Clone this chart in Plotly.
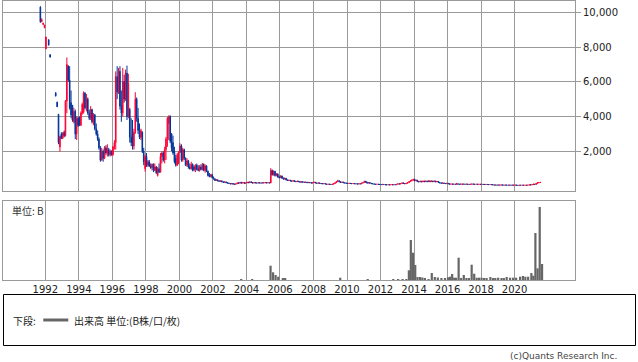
import pandas as pd
import plotly.graph_objects as go

# Monthly candles, Sep 1991 .. Jul 2021 (None = no trading that month)
first_month = "1991-09-01"
opens = [
    10300, 9450, 9300, 9100,
    7900, None, 8420, 7560, None, None, None, 5370, 4830, 4130, 2250, 3000,
    2750, 3100, 2900, 4900, 6900, 6100, 4800, 4650, 3700, 4300, 3000, 3900,
    3600, 3500, 4200, 4250, 5350, 4500, 5000, 4200, 3900, 4400, 3700, 4100,
    3300, 3000, 2700, 2200, 1500, 2000, 1600, 2200, 1900, 2100, 1800, 2000,
    1800, 2250, 2500, 6300, 5400, 6600, 4600, 4200, 6000, 5000, 6500, 4000,
    4400, 2800, 3000, 2300, 3100, 5000, 3900, 3200, 2800, 3100, 2000, 1000,
    1700, 1200, 1400, 1150, 1050, 1250, 900, 1100, 600, 1000, 800, 1700,
    1900, 1500, 2100, 2700, 3600, 4000, 3000, 2500, 2000, 1600, 1200, 1300,
    1950, 2300, 1500, 2100, 1600, 1200, 1450, 1100, 1000, 1250, 1100, 950,
    1200, 1000, 900, 1100, 950, 1250, 900, 1150, 850, 650, 550, 650,
    480, 400, 320, 360, 300, 270, 300, 240, 210, 240, 190, 170,
    150, 120, 150, 110, 100, 130, 180, 160, 210, 170, 200, 160,
    180, 220, 190, 240, 200, 170, 200, 180, 170, 190, 175, 170,
    190, 180, 200, 175, 190, 175, 900, 650, 850, 600, 700, 520,
    480, 580, 450, 400, 450, 350, 320, 340, 290, 280, 310, 270,
    250, 280, 250, 220, 250, 220, 210, 230, 190, 210, 190, 170,
    190, 220, 180, 160, 180, 155, 140, 130, 140, 115, 100, 110,
    100, 90, 105, 140, 190, 260, 300, 240, 210, 230, 190, 170,
    160, 150, 160, 145, 135, 145, 130, 125, 115, 135, 120, 170,
    200, 280, 220, 170, 200, 160, 140, 125, 105, 100, 110, 95,
    90, 80, 95, 85, 75, 65, 75, 65, 80, 70, 85, 70,
    100, 130, 115, 140, 180, 150, 130, 160, 200, 260, 300, 340,
    380, 300, 340, 260, 240, 280, 240, 290, 250, 290, 250, 300,
    250, 290, 250, 290, 240, 270, 210, 180, 160, 180, 150, 140,
    160, 125, 110, 120, 105, 115, 100, 130, 105, 100, 120, 105,
    115, 105, 112, 100, 95, 102, 120, 105, 98, 108, 98, 105,
    95, 105, 92, 88, 96, 88, 82, 90, 80, 62, 55, 62,
    52, 62, 55, 64, 56, 52, 58, 52, 48, 55, 50, 56,
    50, 56, 47, 40, 48, 44, 52, 46, 50, 45, 52, 70,
    60, 85, 110, 90, 150, 190, 200,
]
highs = [
    10350, 9650, 9400, 9280,
    8600, None, 8440, 7580, None, None, None, 5390, 4850, 4130, 2900, 3100,
    3100, 3200, 4950, 7400, 6950, 6900, 5500, 4650, 4500, 4400, 4000, 4000,
    4000, 4300, 4800, 5450, 5400, 5300, 5100, 4400, 4600, 4450, 4200, 4150,
    3600, 3200, 2800, 2300, 2200, 2100, 2300, 2350, 2400, 2200, 2100, 2050,
    2300, 2640, 6600, 6900, 6800, 6900, 5500, 6800, 6400, 6700, 6930, 6460,
    4500, 3900, 3800, 3300, 5400, 5100, 4500, 3600, 3300, 3150, 2200, 1800,
    1900, 1500, 1500, 1300, 1300, 1300, 1300, 1150, 1100, 1300, 1900, 2000,
    2000, 2260, 2830, 3980, 4070, 4070, 3050, 2900, 2260, 1800, 1900, 2000,
    2460, 2400, 2200, 2150, 1650, 1600, 1500, 1300, 1400, 1300, 1200, 1250,
    1300, 1200, 1200, 1250, 1330, 1300, 1250, 1200, 900, 750, 700, 700,
    550, 450, 380, 380, 330, 320, 310, 260, 250, 250, 210, 190,
    170, 160, 160, 130, 140, 200, 220, 230, 240, 210, 210, 190,
    230, 240, 260, 260, 210, 220, 210, 200, 200, 200, 190, 200,
    200, 210, 210, 200, 195, 1030, 950, 900, 870, 750, 720, 600,
    620, 600, 500, 480, 460, 380, 360, 350, 320, 330, 320, 290,
    300, 300, 260, 270, 260, 240, 240, 235, 220, 220, 200, 200,
    240, 230, 190, 190, 185, 165, 150, 150, 145, 125, 120, 115,
    110, 110, 150, 200, 280, 360, 320, 260, 250, 240, 200, 180,
    170, 170, 165, 155, 150, 150, 140, 130, 140, 140, 180, 220,
    300, 290, 240, 210, 210, 170, 150, 130, 115, 115, 112, 100,
    95, 100, 100, 90, 80, 80, 78, 85, 85, 90, 88, 110,
    140, 135, 150, 200, 200, 160, 170, 220, 280, 330, 380, 420,
    420, 360, 350, 290, 300, 290, 300, 300, 310, 300, 310, 310,
    310, 300, 310, 300, 290, 280, 220, 200, 190, 190, 160, 170,
    165, 130, 130, 125, 120, 120, 180, 140, 110, 130, 122, 120,
    118, 115, 115, 105, 105, 140, 125, 108, 110, 110, 110, 108,
    110, 108, 96, 100, 98, 90, 95, 92, 82, 66, 68, 64,
    66, 64, 68, 66, 58, 62, 60, 54, 58, 57, 60, 58,
    60, 58, 50, 52, 50, 56, 54, 55, 52, 55, 80, 75,
    90, 130, 115, 170, 220, 230, 220,
]
lows = [
    9400, 9450, 9280, 9100,
    7880, None, 8100, 7400, None, None, None, 5160, 4550, 2410, 1980, 2700,
    2700, 2800, 2850, 4200, 6000, 4400, 3900, 3700, 3600, 2700, 2650, 3400,
    3450, 3450, 4100, 4170, 4400, 4300, 4100, 3800, 3800, 3600, 3500, 3200,
    2900, 2600, 2100, 1400, 1450, 1400, 1550, 1800, 1700, 1700, 1700, 1750,
    1750, 2100, 2100, 5000, 5300, 4400, 3700, 4000, 4800, 4900, 3800, 3900,
    2500, 2300, 2100, 2100, 3000, 3700, 3000, 2700, 2650, 1900, 1200, 830,
    1100, 1100, 1100, 1000, 900, 800, 850, 700, 550, 750, 780, 1300,
    1400, 1300, 1500, 2260, 2640, 2470, 2000, 1800, 1300, 1120, 1150, 1250,
    1900, 1400, 1400, 1500, 1150, 1100, 1000, 950, 950, 850, 850, 800,
    900, 850, 830, 900, 900, 850, 760, 800, 550, 500, 500, 450,
    380, 300, 300, 280, 260, 250, 230, 200, 200, 180, 160, 140,
    110, 110, 100, 90, 95, 120, 150, 150, 160, 160, 150, 150,
    170, 180, 180, 190, 160, 160, 170, 160, 165, 170, 165, 165,
    170, 175, 170, 170, 170, 170, 600, 600, 550, 560, 480, 450,
    460, 420, 380, 380, 330, 300, 300, 280, 270, 270, 260, 240,
    240, 240, 210, 210, 210, 200, 200, 180, 180, 180, 160, 160,
    180, 170, 150, 150, 150, 130, 120, 120, 110, 90, 90, 95,
    85, 85, 100, 130, 180, 250, 230, 200, 200, 180, 160, 150,
    140, 140, 140, 130, 130, 125, 120, 110, 110, 115, 115, 160,
    190, 200, 150, 160, 150, 130, 120, 100, 95, 95, 90, 85,
    75, 75, 80, 70, 60, 60, 60, 60, 65, 65, 65, 65,
    95, 110, 110, 130, 140, 120, 125, 150, 190, 240, 280, 320,
    280, 280, 250, 220, 230, 230, 230, 240, 240, 240, 240, 240,
    240, 240, 240, 230, 230, 200, 170, 150, 150, 140, 130, 130,
    120, 100, 105, 100, 100, 95, 95, 100, 95, 95, 100, 100,
    100, 100, 98, 92, 92, 100, 100, 95, 95, 95, 95, 92,
    92, 90, 85, 85, 85, 80, 80, 78, 60, 52, 52, 50,
    50, 52, 53, 54, 50, 50, 50, 46, 46, 48, 48, 48,
    48, 45, 38, 38, 42, 42, 44, 44, 44, 44, 50, 58,
    58, 80, 85, 88, 140, 170, 180,
]
closes = [
    9450, 9600, 9380, 9270,
    8580, None, 8110, 7420, None, None, None, 5180, 4560, 2500, 2850, 2750,
    3050, 2900, 4900, 7000, 6100, 4500, 4100, 3800, 4300, 3000, 3900, 3500,
    3500, 4200, 4700, 5350, 4500, 5000, 4200, 3900, 4400, 3700, 4100, 3300,
    3000, 2700, 2200, 1500, 2000, 1600, 2200, 1900, 2100, 1800, 2000, 1800,
    2250, 2500, 6300, 5400, 6600, 4600, 4200, 6000, 5000, 6500, 4000, 5900,
    2800, 2500, 2300, 3100, 5000, 3900, 3200, 2800, 3200, 2000, 1400, 1700,
    1200, 1400, 1150, 1050, 1250, 900, 1100, 750, 1000, 800, 1700, 1900,
    1500, 2100, 2700, 3900, 4000, 2600, 2200, 1900, 1400, 1200, 1800, 1950,
    2300, 1500, 2100, 1600, 1200, 1450, 1100, 1000, 1250, 900, 950, 1200,
    950, 900, 1100, 950, 1250, 900, 1150, 850, 600, 550, 650, 480,
    400, 320, 360, 300, 270, 300, 240, 210, 240, 190, 170, 150,
    120, 150, 110, 100, 130, 180, 160, 210, 170, 200, 160, 180,
    220, 190, 240, 200, 170, 200, 180, 170, 190, 175, 170, 190,
    180, 200, 175, 190, 175, 900, 650, 850, 600, 700, 520, 480,
    580, 450, 400, 450, 350, 320, 340, 290, 280, 310, 270, 250,
    280, 250, 220, 250, 220, 210, 230, 190, 210, 190, 170, 190,
    220, 180, 160, 180, 155, 140, 130, 140, 115, 100, 110, 100,
    90, 105, 140, 190, 260, 300, 240, 210, 230, 190, 170, 160,
    150, 160, 145, 135, 145, 130, 125, 115, 135, 120, 170, 200,
    280, 220, 170, 200, 160, 140, 125, 105, 100, 110, 95, 90,
    80, 95, 85, 75, 65, 75, 65, 80, 70, 85, 70, 100,
    130, 115, 140, 180, 150, 130, 160, 200, 260, 300, 340, 380,
    300, 340, 260, 240, 280, 240, 290, 250, 290, 250, 300, 250,
    290, 250, 290, 240, 270, 210, 180, 160, 180, 150, 140, 160,
    125, 110, 120, 105, 115, 100, 130, 105, 100, 120, 105, 115,
    105, 112, 100, 95, 102, 120, 105, 98, 108, 98, 105, 95,
    105, 92, 88, 96, 88, 82, 90, 80, 62, 55, 62, 52,
    62, 55, 64, 56, 52, 58, 52, 48, 55, 50, 56, 50,
    56, 47, 40, 48, 44, 52, 46, 50, 45, 52, 70, 60,
    85, 110, 90, 150, 190, 200, 210,
]

vol_dates = [
    "2003-09-09", "2004-05-05", "2005-06-10", "2005-08-04", "2005-09-28", "2005-11-25",
    "2006-03-05", "2006-04-24", "2009-08-07", "2011-03-28", "2012-10-05", "2013-01-19",
    "2013-04-26", "2013-07-17", "2013-09-10", "2013-10-23", "2013-12-10", "2014-01-27",
    "2014-03-18", "2014-05-12", "2014-07-02", "2014-08-26", "2014-11-13", "2015-01-23",
    "2015-03-29", "2015-06-03", "2015-08-21", "2015-11-06", "2016-01-11", "2016-02-24",
    "2016-04-11", "2016-05-26", "2016-07-05", "2016-08-30", "2016-10-24", "2016-12-20",
    "2017-02-16", "2017-04-12", "2017-06-10", "2017-08-04", "2017-09-27", "2017-11-18",
    "2018-01-11", "2018-03-07", "2018-05-01", "2018-07-23", "2018-09-20", "2018-11-07",
    "2019-01-08", "2019-03-22", "2019-05-12", "2019-07-13", "2019-09-24", "2019-11-28",
    "2020-02-03", "2020-05-01", "2020-07-01", "2020-08-23", "2020-10-23", "2021-01-01",
    "2021-02-13", "2021-03-30", "2021-05-16", "2021-07-02", "2021-08-22",
]
vol_values = [
    1, 1, 14.3, 7.7, 5, 3.3,
    2, 2, 2.3, 1, 1, 1,
    1, 1, 9.7, 40, 27.3, 15,
    3, 3, 2.5, 2, 1, 7,
    3, 2.5, 2, 1.7, 2.7, 3.3,
    6, 2.3, 2.3, 22.3, 1.7, 5,
    1.7, 1.7, 15.3, 6.3, 2.3, 2.3,
    2.3, 1.7, 1.7, 3, 1.7, 1.7,
    2.3, 1.7, 1.7, 3, 2.3, 2.3,
    2.3, 3.3, 4, 3.3, 3.3, 7,
    4.3, 47, 11.7, 73, 16,
]

price_ticks = [2000, 4000, 6000, 8000, 10000]
year_ticks = ["1992", "1994", "1996", "1998", "2000", "2002", "2004", "2006",
              "2008", "2010", "2012", "2014", "2016", "2018", "2020"]

months = pd.date_range(first_month, periods=len(closes), freq="MS") + pd.Timedelta(days=14)
year_tickvals = [y + "-01-01" for y in year_ticks]

RED = "#ff0033"
BLUE = "#003399"
GRID = "#9a9a9a"
W, H = 638, 362
ML, MR, MT, MB = 3, 63, 1, 82
PW = W - ML - MR
PH = H - MT - MB


def px_x(x):
    return (x - ML) / PW


def px_y(y):
    return (H - MB - y) / PH


fig = go.Figure()
fig.add_trace(go.Candlestick(
    x=months, open=opens, high=highs, low=lows, close=closes,
    increasing=dict(line=dict(color=RED, width=1), fillcolor=RED),
    decreasing=dict(line=dict(color=BLUE, width=1), fillcolor=BLUE),
    whiskerwidth=0, hoverinfo="skip", showlegend=False,
    xaxis="x", yaxis="y",
))
fig.add_trace(go.Bar(
    x=pd.to_datetime(vol_dates), y=vol_values, width=48 * 86400000,
    marker=dict(color="#666666", line=dict(width=0)),
    showlegend=False, hoverinfo="skip", xaxis="x2", yaxis="y2",
))

xr = ["1989-06-23", "2023-08-10"]
common_x = dict(
    type="date", range=xr, tickmode="array", tickvals=year_tickvals, ticktext=year_ticks,
    showgrid=True, gridcolor=GRID, gridwidth=1,
    showline=True, mirror=True, linecolor=GRID, linewidth=1,
    ticks="", zeroline=False, fixedrange=True,
)
fig.update_layout(
    width=W, height=H,
    margin=dict(l=ML, r=MR, t=MT, b=MB, pad=0),
    paper_bgcolor="white", plot_bgcolor="white",
    showlegend=False,
    font=dict(family="DejaVu Sans", size=10, color="#222222"),
    xaxis=dict(common_x, domain=[0, 1], anchor="y", showticklabels=False,
               rangeslider=dict(visible=False)),
    xaxis2=dict(common_x, domain=[0, 1], anchor="y2", matches="x", showticklabels=True,
                tickfont=dict(family="DejaVu Sans", size=10, color="#222222")),
    yaxis=dict(domain=[px_y(190.7), 1], range=[-268, 10650], side="right",
               tickvals=price_ticks, tickformat=",d", ticks="outside", ticklen=5,
               tickcolor=GRID, showgrid=True, gridcolor=GRID, gridwidth=1,
               showline=True, mirror=True, linecolor=GRID, linewidth=1,
               zeroline=False, anchor="x", fixedrange=True,
               tickfont=dict(family="DejaVu Sans", size=10, color="#222222")),
    yaxis2=dict(domain=[0, px_y(201)], range=[0, 79], side="right",
                showticklabels=False, showgrid=False, ticks="",
                showline=True, mirror=True, linecolor=GRID, linewidth=1,
                zeroline=False, anchor="x2", fixedrange=True),
)

cjk = "Noto Sans CJK JP"
fig.add_annotation(xref="paper", yref="paper", x=px_x(10), y=px_y(210.8),
                   text="単位: B", showarrow=False, xanchor="left", yanchor="middle",
                   font=dict(family=cjk, size=10, color="#333333"))
# legend box
fig.add_shape(type="rect", xref="paper", yref="paper",
              x0=px_x(3.5), x1=px_x(635.5), y0=px_y(294.5), y1=px_y(345.5),
              line=dict(color="#000000", width=1), fillcolor="rgba(0,0,0,0)")
fig.add_annotation(xref="paper", yref="paper", x=px_x(10.5), y=px_y(320),
                   text="下段:", showarrow=False, xanchor="left", yanchor="middle",
                   font=dict(family=cjk, size=10, color="#222222"))
fig.add_shape(type="line", xref="paper", yref="paper",
              x0=px_x(43.3), x1=px_x(68.3), y0=px_y(320), y1=px_y(320),
              line=dict(color="#666666", width=3))
fig.add_annotation(xref="paper", yref="paper", x=px_x(72), y=px_y(320),
                   text="出来高 単位:(B株/口/枚)", showarrow=False, xanchor="left", yanchor="middle",
                   font=dict(family=cjk, size=10, color="#222222"))
fig.add_annotation(xref="paper", yref="paper", x=px_x(619), y=px_y(356),
                   text="(c)Quants Research Inc.", showarrow=False, xanchor="right", yanchor="middle",
                   font=dict(family="DejaVu Sans", size=9, color="#444444"))

fig.write_html("out.html")
